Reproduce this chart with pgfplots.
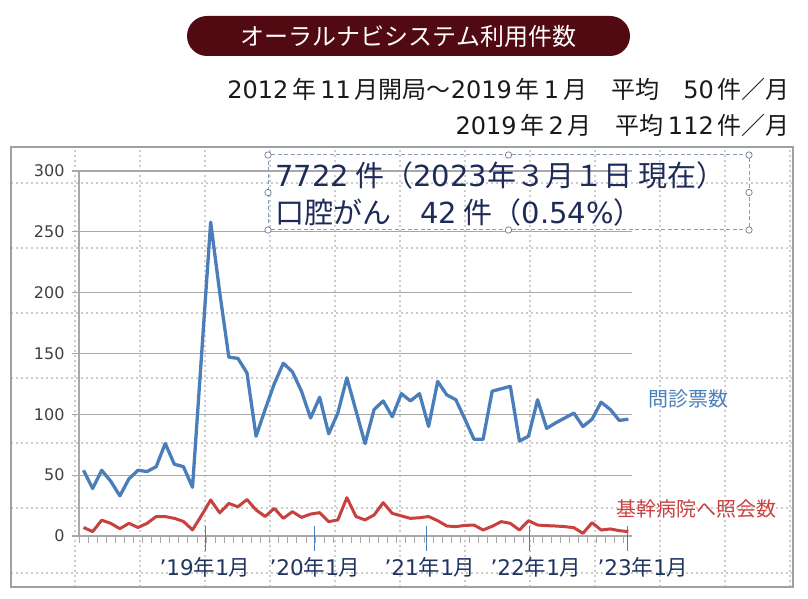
\documentclass[border=0pt]{standalone}
\usepackage{fontspec}
\setmainfont{Noto Sans CJK JP}
\newfontfamily\dv{DejaVu Sans}
\usepackage{pgfplots}
\pgfplotsset{compat=1.18}
\usepackage{pgfplotstable}
\definecolor{banner}{HTML}{520A12}
\definecolor{blueline}{HTML}{4A7EBB}
\definecolor{redline}{HTML}{C8413F}
\definecolor{navy}{HTML}{1F3560}
\definecolor{boxnavy}{HTML}{1E2B58}
\definecolor{gridgray}{HTML}{A8A8A8}
\definecolor{dotgray}{HTML}{CCCCCC}
\definecolor{framegray}{HTML}{A0A0A0}
\definecolor{boxdash}{HTML}{8A9CB8}

\pgfplotstableread{
i blue red
0 54 7
1 39 3.6
2 54 13
3 45 10.4
4 33 6
5 47 10.4
6 54 7
7 53 10.4
8 57 16
9 76 16
10 59 14.5
11 57 12
12 40 5
13 149 17
14 258 29.6
15 200 19
16 147 26.8
17 146 24
18 134 30
19 82 21.4
20 104 16
21 125 22.7
22 142 14.5
23 135 20
24 119 15.3
25 97 18
26 114 19.2
27 84 11.8
28 101 13.2
29 130 31.5
30 103 16
31 76 13.2
32 104 17.3
33 111 27.4
34 98 18.6
35 117 16.5
36 111 14.5
37 117 15
38 90 16
39 127 12.6
40 116 8.2
41 112 7.7
42 96 8.7
43 79.5 9
44 79.5 4.9
45 119 8
46 121 11.8
47 123 10.4
48 78 4.9
49 82 12.6
50 112 9
51 88.5 8.5
52 93 8.2
53 97 7.7
54 101 6.8
55 90 2.2
56 96 10.9
57 110 4.9
58 104 5.8
59 95 4.4
60 96 3.6
}\datatable

\begin{document}
\begin{tikzpicture}[x=1pt,y=1pt]
\useasboundingbox (0,0) rectangle (808,599);
% background dotted grid
\foreach \gx in {75,140,...,790}
  \draw[dotgray, line width=1.2pt, dash pattern=on 1.5pt off 3.5pt] (\gx,12) -- (\gx,452);
\foreach \gy in {183,248,...,573}
  \draw[dotgray, line width=1.2pt, dash pattern=on 1.5pt off 3.5pt] (11,{599-\gy}) -- (793,{599-\gy});
% frame
\draw[framegray, line width=1.8pt] (11,12) rectangle (793,452);

\begin{axis}[
  at={(79pt,63pt)}, anchor=south west,
  scale only axis, width=553pt, height=365pt,
  xmin=-0.5, xmax=60.4, ymin=0, ymax=300,
  axis x line*=bottom, axis y line*=left,
  axis line style={gridgray, line width=1.2pt},
  ytick={0,50,...,300},
  ymajorgrids, grid style={gridgray, line width=1.2pt},
  tick align=outside, major tick length=7pt,
  ytick style={gridgray, line width=1.2pt},
  xtick={-0.5,0.5,...,60.5}, xticklabels={},
  xtick style={gridgray, line width=1pt},
  extra x ticks={13.47,25.47,37.8,49.1,59.85},
  extra x tick labels={},
  extra x tick style={tick align=center, major tick length=24pt, xtick style={blueline, line width=0.9pt, yshift=-2.5pt}},
  /pgf/number format/assume math mode=true,
  yticklabel style={font=\dv\fontsize{16}{16}\selectfont, text=black!75, xshift=-4pt},
  clip=false,
]
\addplot[blueline, line width=3.3pt, line join=round, no markers] table[x=i,y=blue]{\datatable};
\addplot[redline, line width=3pt, line join=round, no markers] table[x=i,y=red]{\datatable};
\end{axis}

% x labels
\foreach \lx/\ly/\lm in {205/19/1, 315/20/1, 430/21/1, 536/22/1, 643/23/1}
  \node[text=navy, font=\fontsize{21.5}{21.5}\selectfont, inner sep=0pt] at (\lx,32) {{\dv ’\ly}年{\dv\lm}月};

% series labels
\node[text=blueline, font=\fontsize{20}{20}\selectfont, inner sep=0pt] at (688,200) {問診票数};
\node[text=redline, font=\fontsize{20}{20}\selectfont, inner sep=0pt] at (696,90) {基幹病院へ照会数};

% text box
\draw[boxdash, line width=1pt, dash pattern=on 4pt off 2.5pt] (268,369) rectangle (749,444);
\foreach \hx/\hy in {268/369,268/406.5,268/444,508.5/369,508.5/444,749/369,749/406.5,749/444}
  \draw[boxdash!80!black, fill=white, line width=0.7pt] (\hx,\hy) circle (3.2pt);
\node[anchor=west, text=boxnavy, font=\fontsize{29}{29}\selectfont, inner sep=0pt] at (275,424) {{\dv 7722} 件（{\dv 2023}年３月１日 現在）};
\node[anchor=west, text=boxnavy, font=\fontsize{29}{29}\selectfont, inner sep=0pt] at (275,387) {口腔がん　{\dv 42} 件（{\dv 0.54\%}）};

% title banner
\node[fill=banner, rounded corners=20pt, minimum width=443pt, minimum height=40pt, inner sep=0pt, text=white, font=\fontsize{24}{24}\selectfont] at (408.5,563) {オーラルナビシステム利用件数};

% subtitles
\node[anchor=east, inner sep=0pt, text=black!90, font=\fontsize{24}{24}\selectfont] at (790,510) {{\dv 2012}\,年\,{\dv 11}\,月開局～{\dv 2019}\,年\,{\dv 1}\,月\quad 平均\quad {\dv 50}\,件／月};
\node[anchor=east, inner sep=0pt, text=black!90, font=\fontsize{24}{24}\selectfont] at (790,474) {{\dv 2019}\,年\,{\dv 2}\,月\quad 平均\,{\dv 112}\,件／月};
\end{tikzpicture}
\end{document}
